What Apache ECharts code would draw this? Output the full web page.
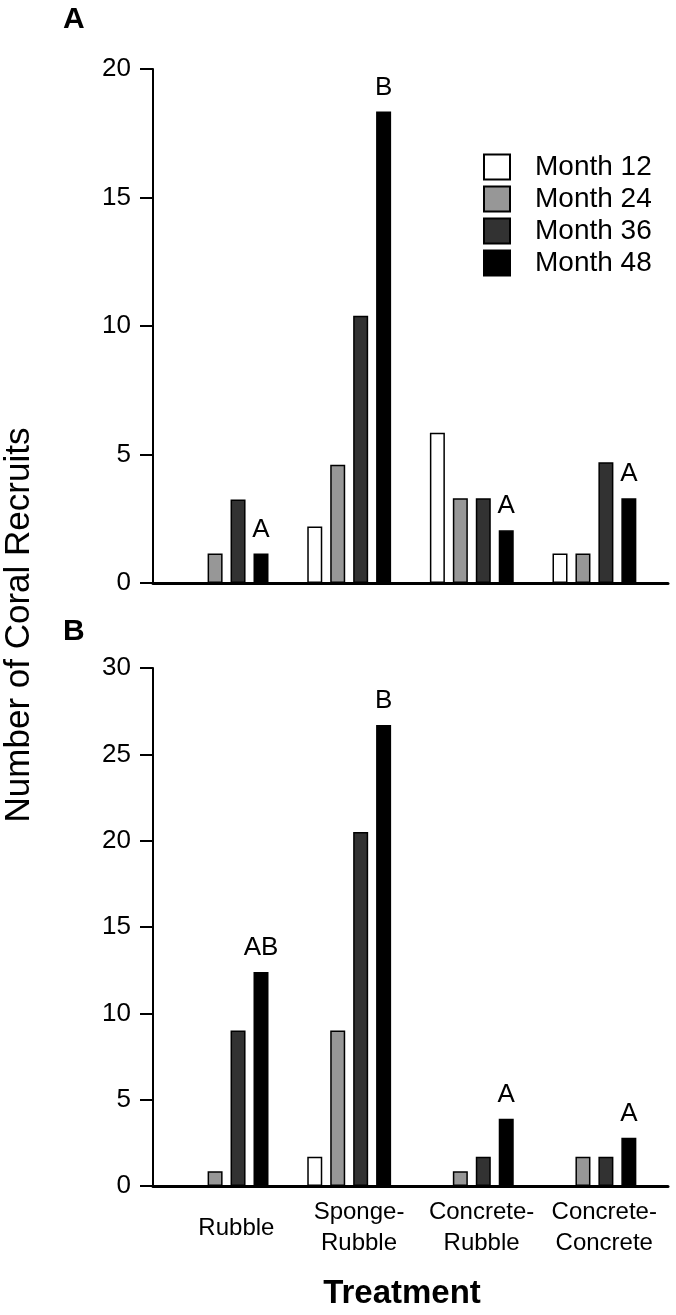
<!DOCTYPE html>
<html>
<head>
<meta charset="utf-8">
<script src="https://cdn.jsdelivr.net/npm/echarts@6/dist/echarts.min.js"></script>
<style>
html,body{margin:0;padding:0;background:#fff;}
#chart{width:676px;height:1315px;}
</style>
</head>
<body>
<div id="chart"></div>
<script>
// ---- Data ----
var categories = ['Rubble', 'Sponge-\nRubble', 'Concrete-\nRubble', 'Concrete-\nConcrete'];
var seriesNames = ['Month 12', 'Month 24', 'Month 36', 'Month 48'];

// Panel A
var topMonth12 = [0, 2.2, 5.85, 1.15];
var topMonth24 = [1.15, 4.6, 3.3, 1.15];
var topMonth36 = [3.25, 10.4, 3.3, 4.7];
var topMonth48 = [1.15, 18.35, 2.05, 3.3];
var topLetters = ['A', 'B', 'A', 'A'];

// Panel B
var botMonth12 = [0, 1.7, 0, 0];
var botMonth24 = [0.85, 9.0, 0.85, 1.7];
var botMonth36 = [9.0, 20.5, 1.7, 1.7];
var botMonth48 = [12.4, 26.7, 3.9, 2.8];
var botLetters = ['AB', 'B', 'A', 'A'];

var topTicks = [0, 5, 10, 15, 20];
var botTicks = [0, 5, 10, 15, 20, 25, 30];

// ---- Styling ----
var FONT = "'Liberation Sans', Arial, Helvetica, sans-serif";
var fills = ['#ffffff', '#979797', '#323232', '#000000'];

function pairs(arr) { return arr.map(function (v, i) { return [i, v]; }); }

function makeSeries(values, idx, gridIdx, letters) {
  var s = {
    type: 'bar',
    name: seriesNames[idx],
    xAxisIndex: gridIdx,
    yAxisIndex: gridIdx,
    data: pairs(values),
    barWidth: 15,
    barGap: '53%',
    itemStyle: { color: fills[idx], borderColor: '#000', borderWidth: 1.5 },
    emphasis: { disabled: true },
    silent: true,
    z: 3
  };
  if (letters) {
    s.label = {
      show: true,
      position: 'top',
      distance: 11,
      color: '#000',
      fontFamily: FONT,
      fontSize: 26,
      formatter: function (p) { return letters[p.dataIndex]; }
    };
  }
  return s;
}

var series = [];
[topMonth12, topMonth24, topMonth36, topMonth48].forEach(function (arr, i) {
  series.push(makeSeries(arr, i, 0, i === 3 ? topLetters : null));
});
[botMonth12, botMonth24, botMonth36, botMonth48].forEach(function (arr, i) {
  series.push(makeSeries(arr, i, 1, i === 3 ? botLetters : null));
});

function xAxisDef(gridIdx, showLabels) {
  return {
    type: 'value',
    gridIndex: gridIdx,
    min: -0.6,
    max: 3.6,
    splitLine: { show: false },
    axisTick: { show: false },
    axisLine: { show: true, onZero: false, lineStyle: { color: '#000', width: 3 } },
    axisLabel: {
      show: showLabels,
      customValues: categories.map(function (c, i) { return i + 0.08; }),
      margin: 42,
      verticalAlign: 'middle',
      align: 'center',
      formatter: function (v) {
        var i = Math.round(v - 0.08);
        return categories[i].split('\n').map(function (t) { return '{a|' + t + '}'; }).join('\n');
      },
      rich: { a: { fontFamily: FONT, fontSize: 24, lineHeight: 31, color: '#000' } }
    }
  };
}

function yAxisDef(gridIdx, max) {
  return {
    type: 'value',
    gridIndex: gridIdx,
    min: 0,
    max: max,
    interval: 5,
    splitLine: { show: false },
    axisLine: { show: true, onZero: false, lineStyle: { color: '#000', width: 2 } },
    axisTick: { show: true, inside: false, length: 13, lineStyle: { color: '#000', width: 2 } },
    axisLabel: { color: '#000', fontFamily: FONT, fontSize: 26, margin: 22 }
  };
}

var chart = echarts.init(document.getElementById('chart'), null, { renderer: 'canvas' });
chart.setOption({
  animation: false,
  backgroundColor: '#ffffff',
  grid: [
    { left: 153, right: 8, top: 69, height: 514 },
    { left: 153, right: 8, top: 668, height: 518 }
  ],
  xAxis: [xAxisDef(0, false), xAxisDef(1, true)],
  yAxis: [yAxisDef(0, 20), yAxisDef(1, 30)],
  legend: {
    data: seriesNames,
    orient: 'vertical',
    left: 483,
    top: 153,
    padding: 0,
    itemWidth: 26,
    itemHeight: 25,
    itemGap: 4,
    icon: 'rect',
    selectedMode: false,
    textStyle: { fontFamily: FONT, fontSize: 28, color: '#000', padding: [0, 0, 0, 20] }
  },
  graphic: [
    { type: 'text', left: 63, top: 5, style: { text: 'A', font: 'bold 30px ' + FONT, fill: '#000' } },
    { type: 'text', left: 63, top: 617, style: { text: 'B', font: 'bold 30px ' + FONT, fill: '#000' } },
    { type: 'text', x: 19, y: 625, rotation: Math.PI / 2,
      style: { text: 'Number of Coral Recruits', font: '35px ' + FONT, fill: '#000', align: 'center', verticalAlign: 'middle' } },
    { type: 'text', x: 402, y: 1294,
      style: { text: 'Treatment', font: 'bold 33px ' + FONT, fill: '#000', align: 'center', verticalAlign: 'middle' } }
  ],
  series: series
});
</script>
</body>
</html>
